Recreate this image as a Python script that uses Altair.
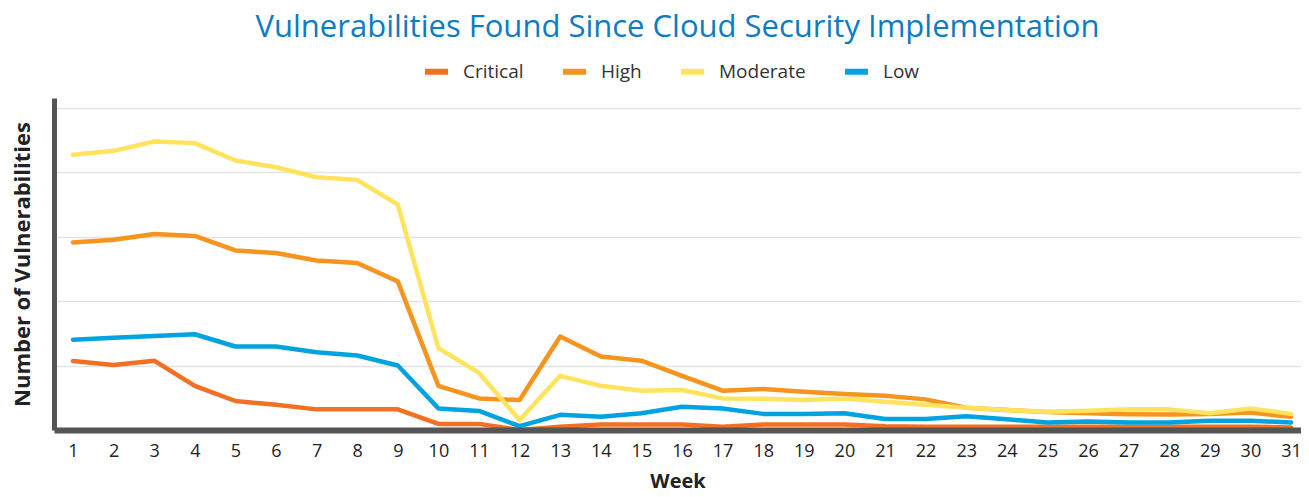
import altair as alt
import pandas as pd

weeks = list(range(1, 32))
series_names = ["Critical", "High", "Moderate", "Low"]
critical = [21.4, 20.2, 21.5, 13.7, 9.0, 7.8, 6.4, 6.4, 6.4, 1.9, 1.9, 0.0, 1.0, 1.7, 1.7, 1.7,
            1.0, 1.7, 1.7, 1.7, 1.2, 1.0, 1.0, 1.0, 1.0, 1.0, 1.0, 1.0, 1.0, 1.0, 0.8]
high = [58.2, 59.0, 60.8, 60.2, 55.7, 54.9, 52.6, 51.8, 46.1, 13.7, 9.8, 9.3, 29.0, 22.8, 21.5, 16.8,
        12.2, 12.7, 11.9, 11.2, 10.6, 9.5, 6.9, 6.2, 5.6, 5.2, 4.9, 4.8, 5.0, 5.4, 4.1]
moderate = [85.4, 86.6, 89.5, 89.0, 83.6, 81.5, 78.4, 77.6, 69.9, 25.4, 17.7, 3.1, 16.8, 13.7, 12.2, 12.4,
            9.8, 9.7, 9.3, 9.8, 8.8, 7.8, 6.9, 6.2, 5.7, 6.0, 6.4, 6.4, 5.2, 6.7, 5.0]
low = [28.0, 28.6, 29.2, 29.7, 25.9, 25.9, 24.1, 23.1, 20.0, 6.7, 5.9, 1.2, 4.7, 4.1, 5.2, 7.2,
       6.7, 5.0, 5.0, 5.2, 3.4, 3.4, 4.3, 3.3, 2.3, 2.6, 2.3, 2.3, 2.9, 2.9, 2.3]
colors = ["#F36F21", "#F7941D", "#FFE35C", "#00A3E0"]

rows = []
for name, vals in zip(series_names, [critical, high, moderate, low]):
    for w, v in zip(weeks, vals):
        rows.append({"Week": w, "Value": v, "Series": name})
df = pd.DataFrame(rows)

FONT = "Open Sans"

chart = alt.Chart(df).mark_line(strokeWidth=4.5, strokeJoin="round", strokeCap="round").encode(
    x=alt.X("Week:Q",
            scale=alt.Scale(domain=[0.532, 31.246], nice=False, zero=False),
            axis=alt.Axis(values=weeks, format="d", grid=False, ticks=False,
                          domainColor="#555555", domainWidth=6, labelFontSize=18,
                          labelColor="#222222", labelFont=FONT, labelPadding=12,
                          title="Week", titleFont=FONT, titleFontSize=20, titleFontWeight="bold",
                          titleColor="#222222", titlePadding=11, zindex=1, labelFlush=False)),
    y=alt.Y("Value:Q",
            scale=alt.Scale(domain=[0, 103], nice=False),
            axis=alt.Axis(values=[0, 20, 40, 60, 80, 100], labels=False, ticks=False,
                          grid=True, gridColor="#E1E4E7", gridWidth=1.5,
                          domainColor="#555555", domainWidth=5,
                          title="Number of Vulnerabilities", titleFont=FONT, titleFontSize=22,
                          titleFontWeight="bold", titleColor="#222222", titlePadding=20)),
    color=alt.Color("Series:N",
                    scale=alt.Scale(domain=series_names, range=colors),
                    sort=series_names,
                    legend=alt.Legend(title=None, orient="none", direction="horizontal",
                                      legendX=368, legendY=-41,
                                      labelFont=FONT, labelFontSize=19, labelColor="#333333",
                                      symbolType="stroke", symbolStrokeWidth=6, symbolSize=529,
                                      labelOffset=12, columnPadding=27)),
).properties(
    width=1247, height=332,
    title=alt.TitleParams("Vulnerabilities Found Since Cloud Security Implementation",
                          font=FONT, fontSize=31, fontWeight="normal", color="#0A7CC4",
                          anchor="middle", offset=13),
    autosize=alt.AutoSizeParams(type="none"),
    padding={"left": 46, "top": 90, "right": 0, "bottom": 59},
).configure_view(stroke=None)

chart.save("out.html", embed_options={"renderer": "svg", "actions": False})
